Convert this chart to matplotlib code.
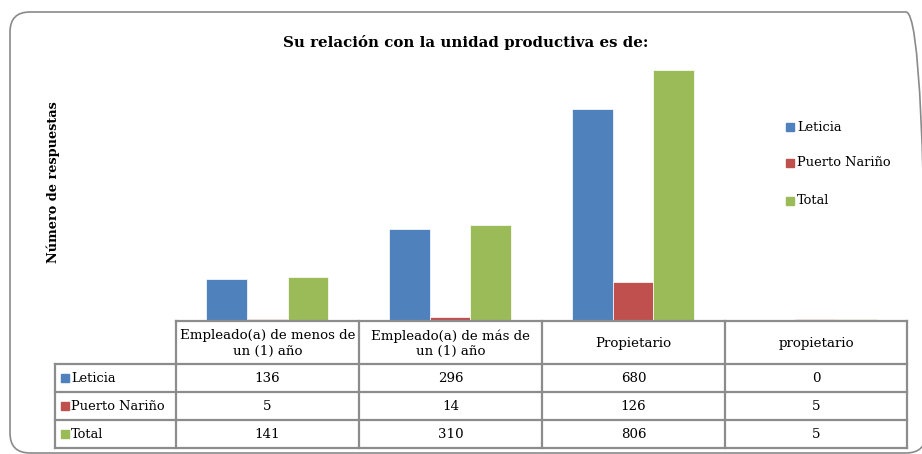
import matplotlib
matplotlib.use("Agg")
import matplotlib.pyplot as plt
import numpy as np
from matplotlib.patches import FancyBboxPatch, Rectangle
from matplotlib.lines import Line2D

categories = ["Empleado(a) de menos de\nun (1) año", "Empleado(a) de más de\nun (1) año",
              "Propietario", "propietario"]
series_names = ["Leticia", "Puerto Nariño", "Total"]
leticia = [136, 296, 680, 0]
puerto = [5, 14, 126, 5]
total = [141, 310, 806, 5]
colors = ["#4F81BD", "#C0504D", "#9BBB59"]
title = "Su relación con la unidad productiva es de:"
ylabel = "Número de respuestas"

W, H = 922, 454
plt.rcParams['font.family'] = ['DejaVu Serif']
fig = plt.figure(figsize=(W / 100, H / 100), dpi=100)

def fx(x):
    return x / W

def fy(y):
    return 1 - y / H

# rounded frame (in inches)
frame = FancyBboxPatch((10 / 100, (H - 453) / 100), (926 - 10) / 100, (453 - 12) / 100,
                       boxstyle="round,pad=0,rounding_size=0.2",
                       transform=fig.dpi_scale_trans, fill=False, edgecolor="#8A8A8A",
                       linewidth=1.2)
fig.patches.append(frame)

# axes
left, right, base, top = 176, 907, 321, 41
ax = fig.add_axes([fx(left), fy(base), fx(right) - fx(left), fy(top) - fy(base)])
ax.set_xlim(-0.5, len(categories) - 0.5)
ax.set_ylim(0, 900)
x = np.arange(len(categories))
bw = 1 / 4.5
for i, (vals, c) in enumerate(zip([leticia, puerto, total], colors)):
    ax.bar(x + (i - 1) * bw, vals, width=bw, color=c, edgecolor="white", linewidth=0.5)
for s in ax.spines.values():
    s.set_visible(False)
ax.set_xticks([])
ax.set_yticks([])
ax.patch.set_alpha(0)

fig.text(fx(466), fy(43), title, ha="center", va="center", fontsize=10.8, fontweight="bold")
fig.text(fx(53), fy(182), ylabel, ha="center", va="center", rotation=90, fontsize=9.3, fontweight="bold")

# legend
leg_y = [127, 163, 201]
for name, c, yy in zip(series_names, colors, leg_y):
    fig.patches.append(Rectangle((fx(786), fy(yy + 4)), fx(8), fy(0) - fy(8),
                                 transform=fig.transFigure, color=c))
    fig.text(fx(797), fy(yy), name, ha="left", va="center", fontsize=9.4)

# table
col_x = [176, 359, 542, 725, 907]
row_y = [321, 364, 392, 420, 448]
lab_left = 55
lc = "#8C8C8C"
lw = 1.6

def hline(x0, x1, y):
    fig.add_artist(Line2D([fx(x0), fx(x1)], [fy(y), fy(y)], transform=fig.transFigure,
                          color=lc, linewidth=lw))

def vline(x, y0, y1):
    fig.add_artist(Line2D([fx(x), fx(x)], [fy(y0), fy(y1)], transform=fig.transFigure,
                          color=lc, linewidth=lw))

hline(col_x[0], col_x[-1], row_y[0])
for y in row_y[1:]:
    hline(lab_left, col_x[-1], y)
for xx in col_x:
    vline(xx, row_y[0], row_y[-1])
vline(lab_left, row_y[1], row_y[-1])

for j, cat in enumerate(categories):
    cx = (col_x[j] + col_x[j + 1]) / 2
    fig.text(fx(cx), fy((row_y[0] + row_y[1]) / 2 + 1), cat, ha="center", va="center",
             fontsize=9.6, linespacing=1.2)

for r, (name, vals, c) in enumerate(zip(series_names, [leticia, puerto, total], colors)):
    cy = (row_y[r + 1] + row_y[r + 2]) / 2
    fig.patches.append(Rectangle((fx(61), fy(cy + 4)), fx(8), fy(0) - fy(8),
                                 transform=fig.transFigure, color=c))
    fig.text(fx(71), fy(cy), name, ha="left", va="center", fontsize=9.4)
    for j, v in enumerate(vals):
        cx = (col_x[j] + col_x[j + 1]) / 2
        fig.text(fx(cx), fy(cy), str(v), ha="center", va="center", fontsize=9.6)

fig.savefig("out.png", dpi=100)
